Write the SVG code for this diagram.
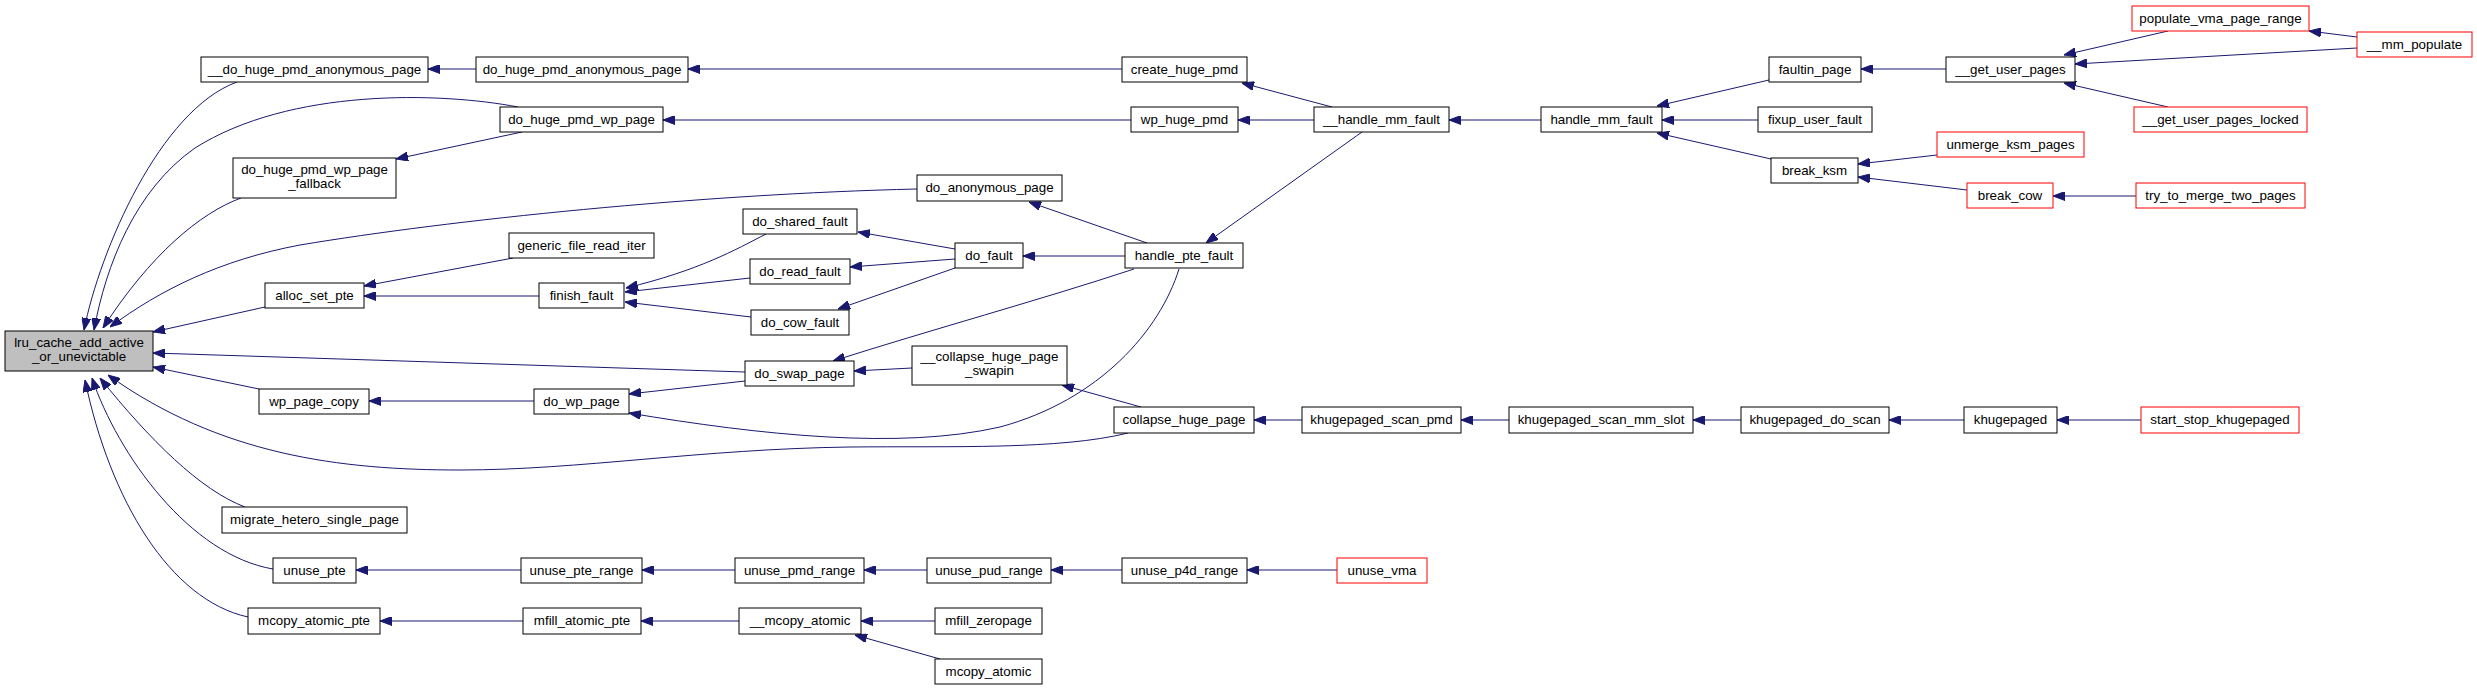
<svg xmlns="http://www.w3.org/2000/svg" width="2477" height="691" viewBox="0 0 2477 691">
<style>
.n rect{fill:#fff;stroke:#000;stroke-width:1}
.r rect{stroke:#ff0000}
.root rect{fill:#bfbfbf}
text{font-family:"Liberation Sans",Arial,Helvetica,sans-serif;font-size:13.33px;text-anchor:middle;fill:#000}
#edges path{fill:none;stroke:#191970;stroke-width:1;marker-end:url(#ah)}
</style>
<defs>
<marker id="ah" markerUnits="userSpaceOnUse" markerWidth="12" markerHeight="9" viewBox="0 0 12 9" refX="12" refY="4.5" orient="auto">
<path d="M0,0 L12,4.5 L0,9 Z" fill="#191970" stroke="#191970" stroke-width="1"/>
</marker>
</defs>
<rect width="2477" height="691" fill="#fff"/>
<g id="edges">
<path d="M237,82 C160,110 100,250 84,330"/>
<path d="M518,107 C440,92 290,88 195,148 C135,190 106,265 94,330"/>
<path d="M241,198 C200,213 150,255 103,328"/>
<path d="M917,189 C700,194 450,220 300,245 C220,260 160,290 110,327"/>
<path d="M265,307 L153,332"/>
<path d="M745,372 L153,353"/>
<path d="M259,389 L153,367"/>
<path d="M1128,433 C1060,450 950,446 850,447 C700,449 580,470 460,470 C340,470 220,455 108,375"/>
<path d="M245,507 C200,490 150,440 100,378"/>
<path d="M273,569 C190,555 118,455 92,378"/>
<path d="M248,617 C170,600 110,500 85,380"/>
<path d="M476,69 L428,69"/>
<path d="M1122,69 L688,69"/>
<path d="M522,132 L396,159"/>
<path d="M1131,120 L663,120"/>
<path d="M1332,107 L1242,83"/>
<path d="M1314,120 L1238,120"/>
<path d="M1362,132 L1206,243"/>
<path d="M1541,120 L1449,120"/>
<path d="M1769,80 L1657,106"/>
<path d="M1758,120 L1662,120"/>
<path d="M1771,159 L1657,133"/>
<path d="M1946,69 L1861,69"/>
<path d="M2168,31 L2064,55"/>
<path d="M2357,48 L2075,64"/>
<path d="M2168,107 L2064,83"/>
<path d="M2357,37 L2309,31"/>
<path d="M1937,155 L1858,164"/>
<path d="M1967,190 L1858,177"/>
<path d="M2136,196 L2053,196"/>
<path d="M1147,243 L1029,202"/>
<path d="M513,258 L364,286"/>
<path d="M539,296 L364,296"/>
<path d="M766,234 C735,250 700,270 626,288"/>
<path d="M750,278 L625,292"/>
<path d="M751,317 L625,302"/>
<path d="M955,249 L858,232"/>
<path d="M955,259 L850,267"/>
<path d="M955,268 L838,309"/>
<path d="M1125,256 L1023,256"/>
<path d="M1134,269 C1040,300 930,330 833,361"/>
<path d="M912,368 L854,371"/>
<path d="M1141,407 L1062,385"/>
<path d="M534,401 L369,401"/>
<path d="M745,381 L629,394"/>
<path d="M1179,269 C1160,330 1100,400 1000,427 C900,450 760,435 629,413"/>
<path d="M1302,420 L1254,420"/>
<path d="M1509,420 L1461,420"/>
<path d="M1741,420 L1693,420"/>
<path d="M1964,420 L1889,420"/>
<path d="M2141,420 L2057,420"/>
<path d="M521,570 L356,570"/>
<path d="M735,570 L642,570"/>
<path d="M927,570 L864,570"/>
<path d="M1122,570 L1051,570"/>
<path d="M1337,570 L1247,570"/>
<path d="M523,621 L380,621"/>
<path d="M739,621 L641,621"/>
<path d="M935,621 L861,621"/>
<path d="M940,659 L855,635"/>
</g>
<g id="lru_cache_add_active_or_unevictable" class="n root"><rect x="5" y="331" width="148" height="40"/><text x="79" y="347">lru_cache_add_active</text><text x="79" y="361">_or_unevictable</text></g>
<g id="__do_huge_pmd_anonymous_page" class="n"><rect x="201" y="57" width="227" height="25"/><text x="314.5" y="74">__do_huge_pmd_anonymous_page</text></g>
<g id="do_huge_pmd_anonymous_page" class="n"><rect x="476" y="57" width="212" height="25"/><text x="582" y="74">do_huge_pmd_anonymous_page</text></g>
<g id="create_huge_pmd" class="n"><rect x="1122" y="57" width="125" height="25"/><text x="1184.5" y="74">create_huge_pmd</text></g>
<g id="do_huge_pmd_wp_page" class="n"><rect x="500" y="107" width="163" height="25"/><text x="581.5" y="124">do_huge_pmd_wp_page</text></g>
<g id="wp_huge_pmd" class="n"><rect x="1131" y="107" width="107" height="25"/><text x="1184.5" y="124">wp_huge_pmd</text></g>
<g id="do_huge_pmd_wp_page_fallback" class="n"><rect x="233" y="158" width="163" height="40"/><text x="314.5" y="174">do_huge_pmd_wp_page</text><text x="314.5" y="188">_fallback</text></g>
<g id="__handle_mm_fault" class="n"><rect x="1314" y="107" width="135" height="25"/><text x="1381.5" y="124">__handle_mm_fault</text></g>
<g id="handle_mm_fault" class="n"><rect x="1541" y="107" width="121" height="25"/><text x="1601.5" y="124">handle_mm_fault</text></g>
<g id="faultin_page" class="n"><rect x="1769" y="57" width="92" height="25"/><text x="1815" y="74">faultin_page</text></g>
<g id="fixup_user_fault" class="n"><rect x="1758" y="107" width="114" height="25"/><text x="1815" y="124">fixup_user_fault</text></g>
<g id="break_ksm" class="n"><rect x="1771" y="158" width="87" height="25"/><text x="1814.5" y="175">break_ksm</text></g>
<g id="__get_user_pages" class="n"><rect x="1946" y="57" width="129" height="25"/><text x="2010.5" y="74">__get_user_pages</text></g>
<g id="populate_vma_page_range" class="n r"><rect x="2132" y="6" width="177" height="25"/><text x="2220.5" y="23">populate_vma_page_range</text></g>
<g id="__mm_populate" class="n r"><rect x="2357" y="32" width="115" height="25"/><text x="2414.5" y="49">__mm_populate</text></g>
<g id="__get_user_pages_locked" class="n r"><rect x="2134" y="107" width="173" height="25"/><text x="2220.5" y="124">__get_user_pages_locked</text></g>
<g id="unmerge_ksm_pages" class="n r"><rect x="1937" y="132" width="147" height="25"/><text x="2010.5" y="149">unmerge_ksm_pages</text></g>
<g id="break_cow" class="n r"><rect x="1967" y="183" width="86" height="25"/><text x="2010" y="200">break_cow</text></g>
<g id="try_to_merge_two_pages" class="n r"><rect x="2136" y="183" width="169" height="25"/><text x="2220.5" y="200">try_to_merge_two_pages</text></g>
<g id="do_anonymous_page" class="n"><rect x="917" y="175" width="145" height="26"/><text x="989.5" y="192">do_anonymous_page</text></g>
<g id="generic_file_read_iter" class="n"><rect x="509" y="233" width="145" height="25"/><text x="581.5" y="250">generic_file_read_iter</text></g>
<g id="alloc_set_pte" class="n"><rect x="265" y="283" width="99" height="25"/><text x="314.5" y="300">alloc_set_pte</text></g>
<g id="finish_fault" class="n"><rect x="539" y="283" width="85" height="25"/><text x="581.5" y="300">finish_fault</text></g>
<g id="do_shared_fault" class="n"><rect x="743" y="209" width="114" height="25"/><text x="800" y="226">do_shared_fault</text></g>
<g id="do_read_fault" class="n"><rect x="750" y="259" width="100" height="25"/><text x="800" y="276">do_read_fault</text></g>
<g id="do_cow_fault" class="n"><rect x="751" y="310" width="98" height="25"/><text x="800" y="327">do_cow_fault</text></g>
<g id="do_fault" class="n"><rect x="955" y="243" width="68" height="25"/><text x="989" y="260">do_fault</text></g>
<g id="handle_pte_fault" class="n"><rect x="1125" y="243" width="118" height="25"/><text x="1184" y="260">handle_pte_fault</text></g>
<g id="do_swap_page" class="n"><rect x="745" y="361" width="109" height="25"/><text x="799.5" y="378">do_swap_page</text></g>
<g id="__collapse_huge_page_swapin" class="n"><rect x="912" y="346" width="155" height="39"/><text x="989.5" y="361">__collapse_huge_page</text><text x="989.5" y="375">_swapin</text></g>
<g id="collapse_huge_page" class="n"><rect x="1114" y="407" width="140" height="26"/><text x="1184" y="424">collapse_huge_page</text></g>
<g id="khugepaged_scan_pmd" class="n"><rect x="1302" y="407" width="159" height="26"/><text x="1381.5" y="424">khugepaged_scan_pmd</text></g>
<g id="khugepaged_scan_mm_slot" class="n"><rect x="1509" y="407" width="184" height="26"/><text x="1601" y="424">khugepaged_scan_mm_slot</text></g>
<g id="khugepaged_do_scan" class="n"><rect x="1741" y="407" width="148" height="26"/><text x="1815" y="424">khugepaged_do_scan</text></g>
<g id="khugepaged" class="n"><rect x="1964" y="407" width="93" height="26"/><text x="2010.5" y="424">khugepaged</text></g>
<g id="start_stop_khugepaged" class="n r"><rect x="2141" y="407" width="158" height="26"/><text x="2220" y="424">start_stop_khugepaged</text></g>
<g id="wp_page_copy" class="n"><rect x="259" y="389" width="110" height="25"/><text x="314" y="406">wp_page_copy</text></g>
<g id="do_wp_page" class="n"><rect x="534" y="389" width="95" height="25"/><text x="581.5" y="406">do_wp_page</text></g>
<g id="migrate_hetero_single_page" class="n"><rect x="222" y="507" width="185" height="26"/><text x="314.5" y="524">migrate_hetero_single_page</text></g>
<g id="unuse_pte" class="n"><rect x="273" y="558" width="83" height="25"/><text x="314.5" y="575">unuse_pte</text></g>
<g id="unuse_pte_range" class="n"><rect x="521" y="558" width="121" height="25"/><text x="581.5" y="575">unuse_pte_range</text></g>
<g id="unuse_pmd_range" class="n"><rect x="735" y="558" width="129" height="25"/><text x="799.5" y="575">unuse_pmd_range</text></g>
<g id="unuse_pud_range" class="n"><rect x="927" y="558" width="124" height="25"/><text x="989" y="575">unuse_pud_range</text></g>
<g id="unuse_p4d_range" class="n"><rect x="1122" y="558" width="125" height="25"/><text x="1184.5" y="575">unuse_p4d_range</text></g>
<g id="unuse_vma" class="n r"><rect x="1337" y="558" width="90" height="25"/><text x="1382" y="575">unuse_vma</text></g>
<g id="mcopy_atomic_pte" class="n"><rect x="248" y="608" width="132" height="26"/><text x="314" y="625">mcopy_atomic_pte</text></g>
<g id="mfill_atomic_pte" class="n"><rect x="523" y="608" width="118" height="26"/><text x="582" y="625">mfill_atomic_pte</text></g>
<g id="__mcopy_atomic" class="n"><rect x="739" y="608" width="122" height="26"/><text x="800" y="625">__mcopy_atomic</text></g>
<g id="mfill_zeropage" class="n"><rect x="935" y="608" width="107" height="26"/><text x="988.5" y="625">mfill_zeropage</text></g>
<g id="mcopy_atomic" class="n"><rect x="935" y="659" width="107" height="25"/><text x="988.5" y="676">mcopy_atomic</text></g>
</svg>
